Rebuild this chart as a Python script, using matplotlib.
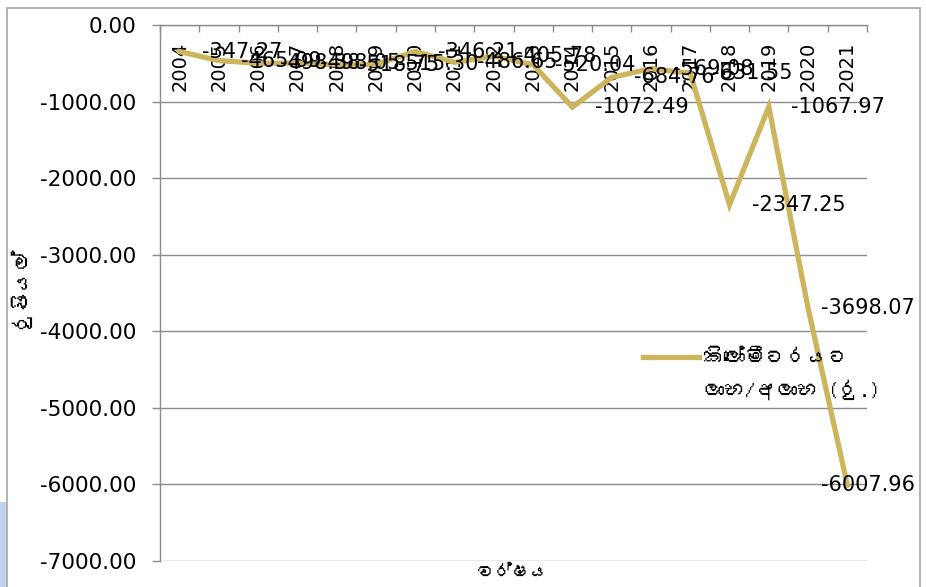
## Line chart of profit/loss per kilometre by year (Sinhala labels)
import numpy as np
import matplotlib
matplotlib.use("Agg")
import matplotlib.pyplot as plt
from matplotlib import font_manager
from matplotlib.ft2font import FT2Font
from matplotlib.patches import Rectangle
from matplotlib.legend_handler import HandlerLine2D

## Chart data
years = ["2004", "2005", "2006", "2007", "2008", "2009", "2010", "2011", "2012",
         "2013", "2014", "2015", "2016", "2017", "2018", "2019", "2020", "2021"]
profitPerKm = [-347.27, -465.09, -498.38, -498.05, -518.75, -515.30, -346.21, -486.65, -405.78,
               -520.04, -1072.49, -684.76, -569.08, -631.55, -2347.25, -1067.97, -3698.07, -6007.96]
yTicks = [0, -1000, -2000, -3000, -4000, -5000, -6000, -7000]
legendLabel = "කිලෝමීටරයට\nලාභ/අලාභ (රු.)"
yTitle = "රුපියල්"
xTitle = "වර්ෂය"

lineColor = "#CDB55E"
gridColor = "#8C8C8C"


## Look for any installed font that has Sinhala glyphs
def findSinhalaFont():
    for f in font_manager.fontManager.ttflist:
        try:
            if 0x0DC3 in FT2Font(f.fname).get_charmap():
                return f.name
        except Exception:
            pass
    return None


## Put the legend line next to the first text line, like Excel does
class TopLineHandler(HandlerLine2D):
    def create_artists(self, legend, orig_handle, xdescent, ydescent, width, height, fontsize, trans):
        artists = super().create_artists(legend, orig_handle, xdescent, ydescent, width, height, fontsize, trans)
        for a in artists:
            a.set_ydata(np.asarray(a.get_ydata()) + 0.85 * fontsize)
        return artists


def main():
    plt.rcParams['font.family'] = ['DejaVu Sans']
    plt.rcParams['axes.unicode_minus'] = False
    sinhala = findSinhalaFont()
    ## Sinhala font only for the Sinhala texts, numbers stay in DejaVu Sans
    sinhalaFamily = [sinhala, 'DejaVu Sans'] if sinhala else ['DejaVu Sans']

    fig = plt.figure(figsize=(9.26, 5.87), dpi=100)
    ax = fig.add_axes([160 / 926, 1 - 561 / 587, (867 - 160) / 926, (561 - 25) / 587])

    ## Outer chart border and the bit of screenshot background at bottom left
    fig.patches.append(Rectangle((7 / 926, -0.02), (920 - 7) / 926, 1.02 - 8 / 587, transform=fig.transFigure,
                                 fill=False, edgecolor="#A6A6A6", linewidth=1.2))
    fig.patches.append(Rectangle((0, 0), 6 / 926, 85 / 587, transform=fig.transFigure,
                                 facecolor="#C3D2EE", edgecolor="none"))

    x = np.arange(len(years))
    line, = ax.plot(x, profitPerKm, color=lineColor, linewidth=3.8, solid_joinstyle='miter',
                    label=legendLabel, zorder=3)

    ## Data labels to the right of each point, the last two pushed back inside the chart
    for i, v in enumerate(profitPerKm):
        if i == len(years) - 1:
            dx = -19
        elif i == len(years) - 2:
            dx = 9
        else:
            dx = 16
        ax.annotate("%.2f" % v, (x[i], v), xytext=(dx, 0), textcoords='offset points',
                    ha='left', va='center', fontsize=15, color='black', zorder=4)

    ax.set_xlim(-0.5, len(years) - 0.5)
    ax.set_ylim(-7000, 0)

    ## Y axis
    ax.set_yticks(yTicks)
    ax.set_yticklabels(["%.2f" % t for t in yTicks], fontsize=15.5)
    ax.tick_params(axis='y', direction='out', length=6, width=1, color=gridColor, pad=11)
    ax.yaxis.grid(True, color=gridColor, linewidth=1)

    ## X axis sits on top at zero, labels hang down into the plot
    ax.xaxis.tick_top()
    ax.set_xticks(np.arange(len(years) + 1) - 0.5)
    ax.set_xticklabels([])
    ax.set_xticks(x, minor=True)
    ax.set_xticklabels(years, minor=True, rotation=90, fontsize=14)
    ax.tick_params(axis='x', which='major', direction='in', length=5, width=1, color=gridColor)
    ax.tick_params(axis='x', which='minor', length=0, pad=-47.5)

    for side in ['right', 'bottom']:
        ax.spines[side].set_visible(False)
    for side in ['left', 'top']:
        ax.spines[side].set_color(gridColor)
        ax.spines[side].set_linewidth(1)

    ## Axis titles
    fig.text(18 / 926, 1 - 287 / 587, yTitle, rotation=90, ha='center', va='center', fontsize=15,
             family=sinhalaFamily)
    fig.text(513 / 926, 1 - 573 / 587, xTitle, ha='center', va='center', fontsize=13, family=sinhalaFamily)

    ## Legend without frame
    leg = ax.legend(handles=[line], loc='upper left', bbox_to_anchor=(643 / 926, 1 - 349 / 587),
                    bbox_transform=fig.transFigure, frameon=False, handlelength=2.7,
                    handletextpad=0.2, borderpad=0, borderaxespad=0,
                    prop={'family': sinhalaFamily, 'size': 15},
                    handler_map={line: TopLineHandler()})
    leg.get_texts()[0].set_linespacing(1.7)

    plt.savefig("out.png", dpi=100)


if __name__ == "__main__":
    main()
